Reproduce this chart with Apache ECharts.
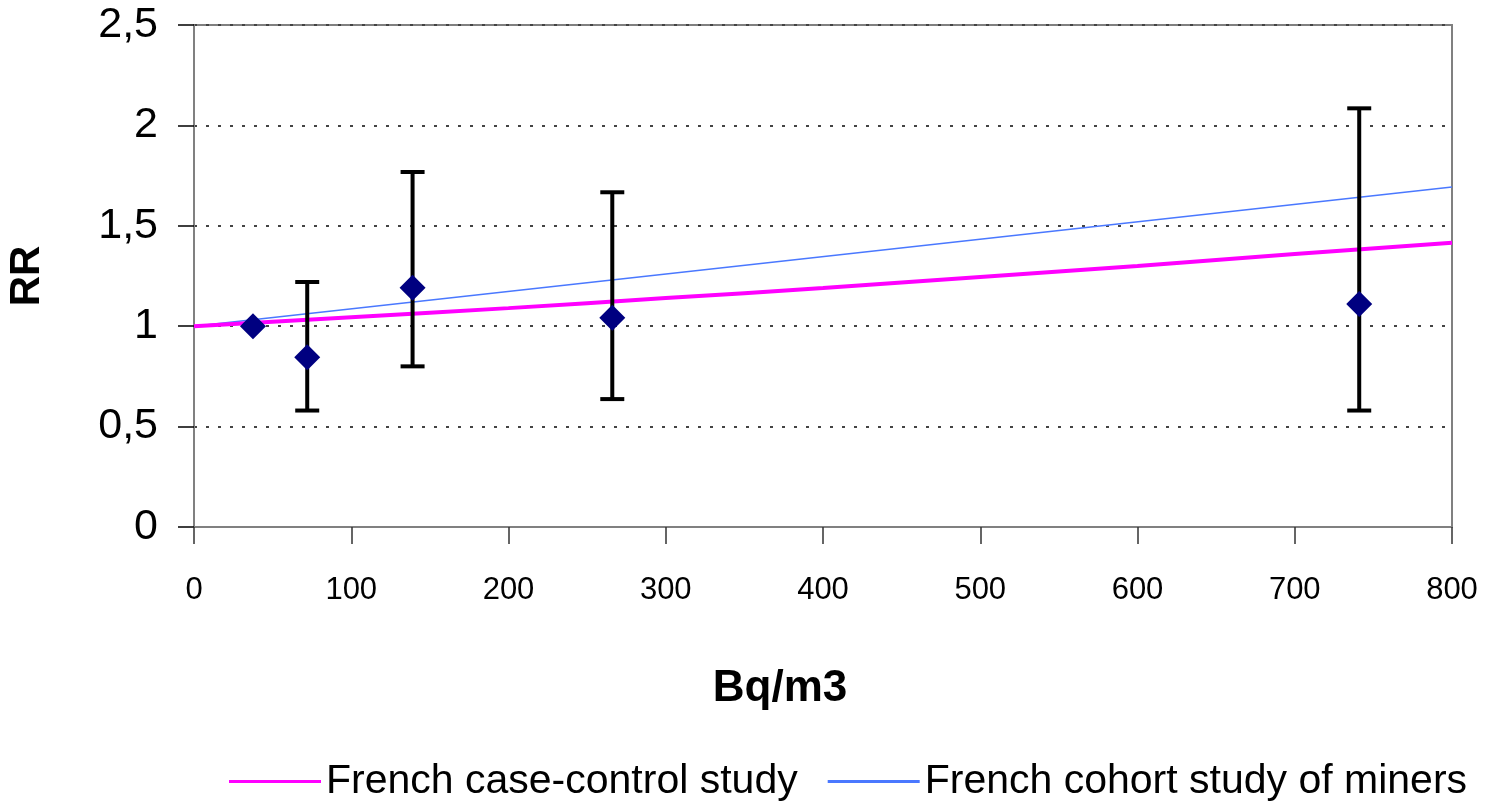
<!DOCTYPE html>
<html>
<head>
<meta charset="utf-8">
<script src="https://cdn.jsdelivr.net/npm/echarts@6/dist/echarts.min.js"></script>
<style>
  html, body { margin: 0; padding: 0; background: #fff; }
  #chart { width: 1488px; height: 801px; }
</style>
</head>
<body>
<div id="chart"></div>
<script>
  // measured points (Bq/m3, RR) with confidence interval
  var pointX = [37.5, 72, 139, 266, 741];
  var pointRR = [1.0, 0.845, 1.192, 1.042, 1.11];
  var ciLow = [null, 0.58, 0.80, 0.637, 0.58];
  var ciHigh = [null, 1.22, 1.768, 1.667, 2.085];

  // fitted curves
  var caseControlX = [0, 100, 200, 300, 400, 500, 600, 700, 800];
  var caseControlRR = [1.0, 1.045, 1.09, 1.14, 1.19, 1.245, 1.30, 1.36, 1.415];
  var minersX = [0, 800];
  var minersRR = [1.0, 1.693];

  var yTicks = ['0', '0,5', '1', '1,5', '2', '2,5'];

  var FONT = '"Liberation Sans", Arial, sans-serif';

  function zip(a, b) {
    return a.map(function (v, i) { return [v, b[i]]; });
  }

  var errData = [];
  pointX.forEach(function (x, i) {
    if (ciLow[i] != null) errData.push([x, ciLow[i], ciHigh[i]]);
  });

  function renderErr(params, api) {
    var x = api.value(0);
    var lo = api.coord([x, api.value(1)]);
    var hi = api.coord([x, api.value(2)]);
    var w = 12;
    var style = { stroke: '#000', lineWidth: 4 };
    return {
      type: 'group',
      children: [
        { type: 'line', shape: { x1: lo[0], y1: lo[1], x2: hi[0], y2: hi[1] }, style: style },
        { type: 'line', shape: { x1: hi[0] - w, y1: hi[1], x2: hi[0] + w, y2: hi[1] }, style: style },
        { type: 'line', shape: { x1: lo[0] - w, y1: lo[1], x2: lo[0] + w, y2: lo[1] }, style: style }
      ]
    };
  }

  var chart = echarts.init(document.getElementById('chart'));
  chart.setOption({
    animation: false,
    backgroundColor: '#fff',
    textStyle: { fontFamily: FONT, color: '#000' },
    grid: {
      left: 194, right: 36, top: 25, bottom: 274,
      outerBoundsMode: 'none', containLabel: false,
      show: true, borderColor: '#808080', borderWidth: 2, backgroundColor: '#fff'
    },
    legend: {
      left: 229, top: 761, padding: 0, width: 1259,
      itemWidth: 92, itemHeight: 3, itemGap: 30,
      textStyle: { fontFamily: FONT, fontSize: 41, color: '#000' },
      data: [
        { name: 'French case-control study', icon: 'rect' },
        { name: 'French cohort study of miners', icon: 'rect' }
      ]
    },
    xAxis: {
      type: 'value', min: 0, max: 800, interval: 100,
      name: 'Bq/m3', nameLocation: 'middle', nameGap: 140,
      nameTextStyle: { fontSize: 44, fontWeight: 'bold', fontFamily: FONT, color: '#000', padding: [0, 86, 0, 0] },
      axisLine: { show: true, lineStyle: { color: '#808080', width: 2 } },
      axisTick: { show: true, length: 17, lineStyle: { color: '#333', width: 1.5 } },
      axisLabel: { fontSize: 31, color: '#000', margin: 48, fontFamily: FONT },
      splitLine: { show: false }
    },
    yAxis: {
      type: 'value', min: 0, max: 2.5, interval: 0.5,
      name: 'RR', nameLocation: 'middle', nameGap: 146, nameRotate: 90,
      nameTextStyle: { fontSize: 42, fontWeight: 'bold', fontFamily: FONT, color: '#000' },
      axisLine: { show: true, lineStyle: { color: '#808080', width: 2 } },
      axisTick: { show: true, length: 16, lineStyle: { color: '#000', width: 1.5 } },
      axisLabel: {
        fontSize: 43, color: '#000', margin: 36, fontFamily: FONT,
        formatter: function (v) { return yTicks[Math.round(v / 0.5)]; }
      },
      splitLine: { show: true, lineStyle: { color: '#444', width: 2, type: [3, 9] } }
    },
    series: [
      {
        name: 'French case-control study', type: 'line', data: zip(caseControlX, caseControlRR),
        smooth: true, symbol: 'none', z: 3,
        lineStyle: { color: '#ff00ff', width: 4 }, itemStyle: { color: '#ff00ff' }
      },
      {
        name: 'French cohort study of miners', type: 'line', data: zip(minersX, minersRR),
        symbol: 'none', z: 2,
        lineStyle: { color: '#4a78ff', width: 1.5 }, itemStyle: { color: '#4a78ff' }
      },
      {
        name: 'CI', type: 'custom', renderItem: renderErr, data: errData, z: 4,
        encode: { x: 0, y: [1, 2] }
      },
      {
        name: 'RR', type: 'scatter', data: zip(pointX, pointRR), z: 5,
        symbol: 'diamond', symbolSize: [26, 26],
        itemStyle: { color: '#000080', opacity: 1 }
      }
    ]
  });
</script>
</body>
</html>
